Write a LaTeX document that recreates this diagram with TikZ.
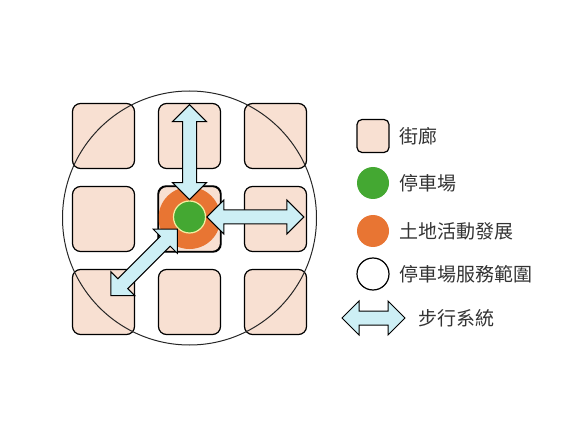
\documentclass[tikz,border=0pt]{standalone}
\usepackage{fontspec}
\newfontfamily\cjk{Noto Sans CJK TC}
\usetikzlibrary{positioning,shapes.arrows}

\definecolor{blockfill}{HTML}{F8E0D2}
\definecolor{parkgreen}{HTML}{44A832}
\definecolor{landorange}{HTML}{E87533}
\definecolor{walkcyan}{HTML}{CDEFF5}
\definecolor{parkrim}{HTML}{F2EFA0}

\begin{document}
\begin{tikzpicture}[x=1pt,y=1pt,
    block/.style={draw, line width=1.2pt, fill=blockfill, rounded corners=8pt,
      minimum width=62pt, minimum height=65pt, inner sep=0pt},
    walk/.style={draw, line width=1pt, fill=walkcyan, double arrow,
      double arrow tip angle=90, double arrow head extend=10pt,
      inner sep=6.5pt, minimum height=95pt},
    dot/.style={circle, inner sep=0pt, minimum size=32pt},
    legendtext/.style={font=\cjk\fontsize{19}{22}\selectfont, text=black!80, inner sep=0pt}]
  \useasboundingbox (0,0) rectangle (587,440);

  % street blocks
  \foreach \r/\y in {1/304,2/221,3/138}
    \foreach \c/\x in {1/103.5,2/189.5,3/275.5}
      \node[block] (b-\r-\c) at (\x,\y) {};

  % service range
  \draw[line width=1pt, black!85] (189.5,222) circle [radius=127];

  % land use around the car park
  \begin{scope}
    \clip[rounded corners=8pt] (b-2-2.south west) rectangle (b-2-2.north east);
    \fill[landorange] (189.5,222) circle [radius=31];
  \end{scope}
  \draw[line width=1.2pt, rounded corners=8pt] (b-2-2.south west) rectangle (b-2-2.north east);

  % car park and walking links
  \node[dot, fill=parkgreen, draw=parkrim, line width=1.2pt] (park) at (189.5,223) {};
  \node[walk, rotate=90, anchor=west] (walkN) at (park.north) {};
  \node[walk, anchor=west, minimum height=97pt] (walkE) at (park.east) {};
  \node[walk, rotate=225, anchor=west, minimum height=94pt] (walkSW) at (park.225) {};

  % legend
  \node[block, minimum width=32pt, minimum height=33pt, rounded corners=5pt] (keyBlock) at (373,304) {};
  \node[dot, fill=parkgreen] (keyPark) at (373,257) {};
  \node[dot, fill=landorange] (keyLand) at (373,209) {};
  \node[dot, draw, line width=1.2pt, fill=white] (keyRange) at (373,166) {};
  \node[walk, minimum height=63pt] (keyWalk) at (373.5,122) {};

  \node[legendtext, right=10pt of keyBlock] (txtBlock) {街廊};
  \node[legendtext, right=10pt of keyPark] (txtPark) {停車場};
  \node[legendtext, right=10pt of keyLand] (txtLand) {土地活動發展};
  \node[legendtext, right=10pt of keyRange] (txtRange) {停車場服務範圍};
  \node[legendtext, right=13pt of keyWalk] (txtWalk) {步行系統};
\end{tikzpicture}
\end{document}
